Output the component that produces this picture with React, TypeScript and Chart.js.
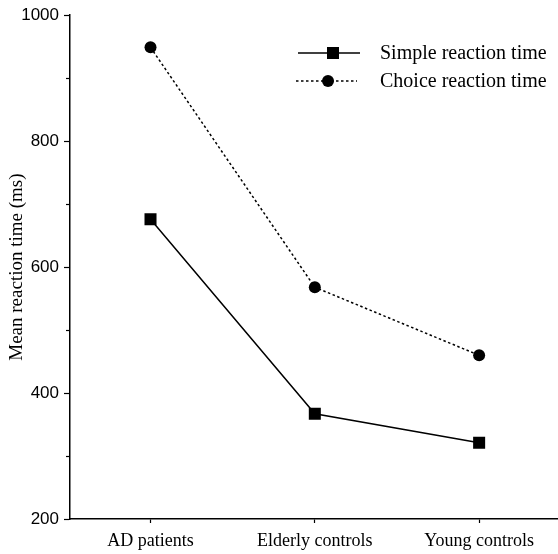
import React, { useEffect, useRef } from "react";
import { Chart, registerables } from "chart.js";

Chart.register(...registerables);

const categories = ["AD patients", "Elderly controls", "Young controls"];
const simpleRT = [676, 367, 321];
const choiceRT = [949, 568, 460];
const seriesNames = ["Simple reaction time", "Choice reaction time"];
const yTicks = [200, 400, 600, 800, 1000];
const yMinorTicks = [300, 500, 700, 900];

const minorTickPlugin = {
  id: "minorTicks",
  afterDraw(chart: any) {
    const y = chart.scales.y;
    const ctx = chart.ctx;
    ctx.save();
    ctx.strokeStyle = "#000";
    ctx.lineWidth = 1.2;
    for (const v of yMinorTicks) {
      const py = Math.round(y.getPixelForValue(v)) + 0.5;
      ctx.beginPath();
      ctx.moveTo(y.right - 4, py);
      ctx.lineTo(y.right, py);
      ctx.stroke();
    }
    ctx.restore();
  },
};

const legendPlugin = {
  id: "customLegend",
  afterDraw(chart: any) {
    const ctx = chart.ctx;
    ctx.save();
    const rows = [
      { y: 53, x1: 298, x2: 360, mx: 333, dash: [] as number[], marker: "rect" },
      { y: 81, x1: 296, x2: 357, mx: 328, dash: [2.5, 2.5], marker: "circle" },
    ];
    rows.forEach((r, i) => {
      ctx.strokeStyle = "#000";
      ctx.lineWidth = 1.5;
      ctx.setLineDash(r.dash);
      ctx.beginPath();
      ctx.moveTo(r.x1, r.y);
      ctx.lineTo(r.x2, r.y);
      ctx.stroke();
      ctx.setLineDash([]);
      ctx.fillStyle = "#000";
      if (r.marker === "rect") {
        ctx.fillRect(r.mx - 6, r.y - 6, 12, 12);
      } else {
        ctx.beginPath();
        ctx.arc(r.mx, r.y, 6, 0, Math.PI * 2);
        ctx.fill();
      }
      ctx.font = '20px "Liberation Serif", serif';
      ctx.textBaseline = "middle";
      ctx.textAlign = "left";
      ctx.fillText(seriesNames[i], 380, r.y + 1);
    });
    ctx.restore();
  },
};

export default function App() {
  const ref = useRef<HTMLCanvasElement | null>(null);

  useEffect(() => {
    document.body.style.margin = "0";
    const canvas = ref.current;
    if (!canvas) return;
    const chart = new Chart(canvas, {
      type: "line",
      data: {
        datasets: [
          {
            label: seriesNames[0],
            data: simpleRT.map((v, i) => ({ x: i, y: v })),
            borderColor: "#000",
            backgroundColor: "#000",
            borderWidth: 1.5,
            pointStyle: "rect",
            pointRadius: 8.5,
            pointBorderWidth: 0,
            tension: 0,
          },
          {
            label: seriesNames[1],
            data: choiceRT.map((v, i) => ({ x: i, y: v })),
            borderColor: "#000",
            backgroundColor: "#000",
            borderWidth: 1.5,
            borderDash: [2.5, 2.5],
            pointStyle: "circle",
            pointRadius: 6,
            pointBorderWidth: 0,
            tension: 0,
          },
        ],
      },
      options: {
        animation: false,
        responsive: false,
        maintainAspectRatio: false,
        layout: { autoPadding: false, padding: { top: 15, right: 0, left: 0, bottom: 0 } },
        plugins: {
          legend: { display: false },
          tooltip: { enabled: false },
        },
        scales: {
          x: {
            type: "linear",
            min: -0.49,
            max: 2.48,
            afterBuildTicks: (scale: any) => {
              scale.ticks = categories.map((_, i) => ({ value: i }));
            },
            afterFit: (scale: any) => {
              scale.height = 35;
              scale.paddingLeft = 0;
              scale.paddingRight = 0;
            },
            border: { color: "#000", width: 1.5 },
            grid: {
              drawOnChartArea: false,
              drawTicks: true,
              tickLength: 4,
              tickColor: "#000",
              tickWidth: 1.2,
            },
            ticks: {
              color: "#000",
              padding: 7,
              maxRotation: 0,
              autoSkip: false,
              font: { family: '"Liberation Serif", serif', size: 18 },
              callback: (v: any) => categories[Math.round(Number(v))] ?? "",
            },
          },
          y: {
            type: "linear",
            min: 200,
            max: 1000,
            afterBuildTicks: (scale: any) => {
              scale.ticks = yTicks.map((v) => ({ value: v }));
            },
            afterFit: (scale: any) => {
              scale.width = 70;
            },
            border: { color: "#000", width: 1.5 },
            grid: {
              drawOnChartArea: false,
              drawTicks: true,
              tickLength: 6,
              tickColor: "#000",
              tickWidth: 1.2,
            },
            ticks: {
              color: "#000",
              padding: 5,
              font: { family: '"Liberation Sans", Arial, sans-serif', size: 17 },
              callback: (v: any) => String(v),
            },
            title: {
              display: true,
              text: "Mean reaction time (ms)",
              color: "#000",
              padding: { top: 6, bottom: 0 },
              font: { family: '"Liberation Serif", serif', size: 19 },
            },
          },
        },
      },
      plugins: [minorTickPlugin, legendPlugin],
    });
    return () => chart.destroy();
  }, []);

  return (
    <div style={{ position: "absolute", left: 0, top: 0, width: 558, height: 554, background: "#fff" }}>
      <canvas ref={ref} width={558} height={554} style={{ display: "block" }} />
    </div>
  );
}
